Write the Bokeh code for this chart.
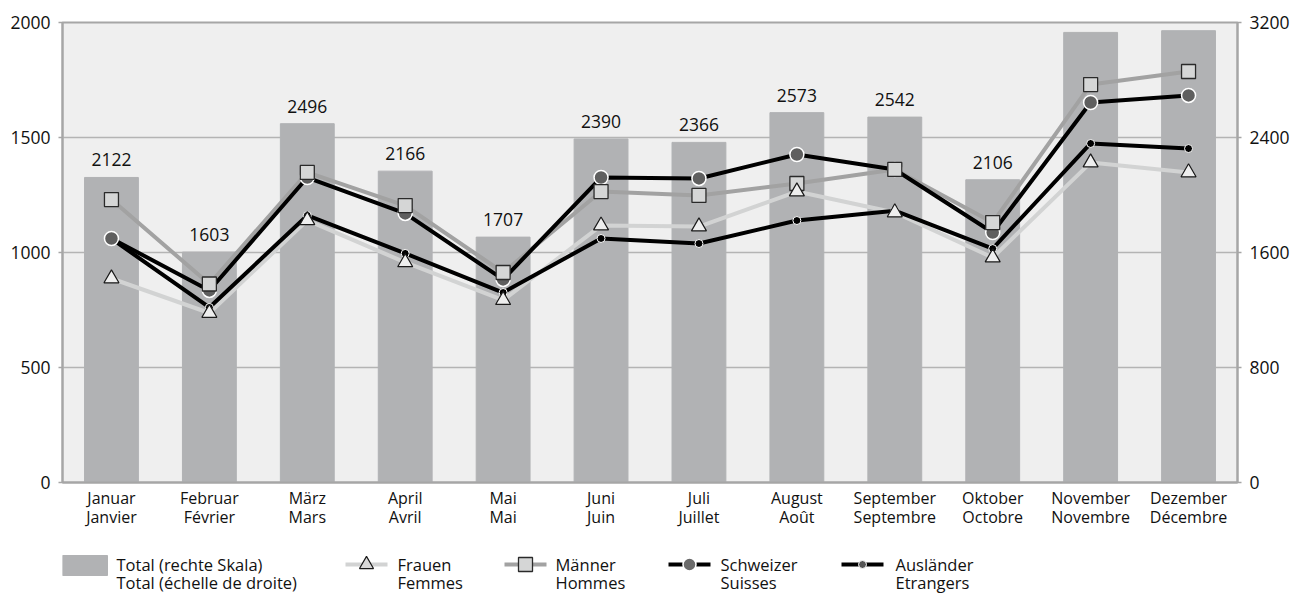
from bokeh.plotting import figure
from bokeh.models import (ColumnDataSource, Range1d, LinearAxis, FixedTicker,
                          LabelSet, FactorRange, CategoricalAxis,
                          CustomJSTickFormatter)
from bokeh.layouts import column
from bokeh.embed import file_html
from bokeh.resources import INLINE
from bokeh.core.properties import value

months_de = ["Januar", "Februar", "März", "April", "Mai", "Juni", "Juli",
             "August", "September", "Oktober", "November", "Dezember"]
months_fr = ["Janvier", "Février", "Mars", "Avril", "Mai", "Juin", "Juillet",
             "Août", "Septembre", "Octobre", "Novembre", "Décembre"]
total = [2122, 1603, 2496, 2166, 1707, 2390, 2366, 2573, 2542, 2106, 3131, 3143]
frauen = [887, 737, 1140, 957, 793, 1117, 1113, 1265, 1174, 978, 1391, 1348]
maenner = [1230, 863, 1348, 1204, 913, 1265, 1248, 1300, 1361, 1130, 1730, 1787]
schweizer = [1061, 835, 1326, 1170, 883, 1326, 1322, 1426, 1361, 1087, 1652, 1683]
auslaender = [1060, 761, 1161, 996, 826, 1061, 1039, 1139, 1182, 1017, 1474, 1452]
left_ticks = [0, 500, 1000, 1500, 2000]
right_ticks = [0, 800, 1600, 2400, 3200]
legend_l1 = ["Total (rechte Skala)", "Frauen", "Männer", "Schweizer", "Ausländer"]
legend_l2 = ["Total (échelle de droite)", "Femmes", "Hommes", "Suisses", "Etrangers"]

FONT = "Open Sans"
TXT = "#111111"
W = 1295
FL, FR, FT, FB = 62, 1237, 22, 482   # frame edges in page pixels
MAIN_H = 535
LH = 59

src = ColumnDataSource(dict(m=months_de, total=total, lab=[str(t) for t in total],
                            frauen=frauen, maenner=maenner,
                            schweizer=schweizer, auslaender=auslaender))

p = figure(width=W, height=MAIN_H, x_range=FactorRange(*months_de),
           y_range=Range1d(0, 2000), output_backend="svg", toolbar_location=None,
           min_border_left=FL, min_border_right=W - FR, min_border_top=FT,
           min_border_bottom=MAIN_H - FB)
p.extra_y_ranges = {"right": Range1d(0, 3200)}
p.background_fill_color = "#efefef"
p.border_fill_color = "white"
p.outline_line_color = "#a6a6a6"
p.outline_line_width = 2

# bars (right scale)
p.vbar(x="m", top="total", width=0.55, source=src, color="#b1b2b4",
       y_range_name="right")
labels = LabelSet(x="m", y="total", text="lab", source=src, y_range_name="right",
                  text_align="center", text_baseline="bottom", y_offset=11,
                  text_font=value(FONT), text_font_size="17.5px", text_color=TXT)
p.add_layout(labels)

# lines
p.line("m", "frauen", source=src, line_color="#d2d3d3", line_width=4)
p.line("m", "maenner", source=src, line_color="#a2a2a2", line_width=4)
p.line("m", "schweizer", source=src, line_color="black", line_width=4)
p.line("m", "auslaender", source=src, line_color="black", line_width=4)

# markers
p.scatter("m", "auslaender", source=src, marker="circle", size=8,
          fill_color="black", line_color="white", line_width=1)
p.scatter("m", "schweizer", source=src, marker="circle", size=14,
          fill_color="#5f5f5f", line_color="white", line_width=1.5)
p.scatter("m", "maenner", source=src, marker="square", size=14,
          fill_color="#d5d6d6", line_color="#2a2a2a", line_width=1.3)
p.scatter("m", "frauen", source=src, marker="triangle", size=15,
          fill_color="#eeeeee", line_color="#1a1a1a", line_width=1.2)

# y axes
p.yaxis[0].ticker = FixedTicker(ticks=left_ticks)
ra = LinearAxis(y_range_name="right", ticker=FixedTicker(ticks=right_ticks))
p.add_layout(ra, "right")
for ax in [p.yaxis[0], ra]:
    ax.axis_line_color = "#a6a6a6"
    ax.axis_line_width = 2
    ax.major_tick_line_color = "#a6a6a6"
    ax.major_tick_line_width = 1.5
    ax.major_tick_out = 4
    ax.major_tick_in = 0
    ax.minor_tick_line_color = None
    ax.major_label_text_font = FONT
    ax.major_label_text_font_size = "17.5px"
    ax.major_label_text_color = TXT
    ax.major_label_standoff = 8

# x axes: German line, then French line
xa = p.xaxis[0]
xa.axis_line_color = "#a6a6a6"
xa.axis_line_width = 2
xa.major_label_standoff = 4
xa2 = CategoricalAxis()
xa2.axis_line_color = None
xa2.major_label_standoff = -6
xa2.formatter = CustomJSTickFormatter(
    args=dict(de=months_de, fr=months_fr),
    code="const i = de.indexOf(tick); return i >= 0 ? fr[i] : tick;")
p.add_layout(xa2, "below")
for ax in [xa, xa2]:
    ax.major_tick_line_color = None
    ax.minor_tick_line_color = None
    ax.major_tick_out = 0
    ax.major_tick_in = 0
    ax.major_label_text_font = FONT
    ax.major_label_text_font_size = "16px"
    ax.major_label_text_color = TXT

p.xgrid.grid_line_color = None
p.ygrid.ticker = FixedTicker(ticks=[500, 1000, 1500])
p.ygrid.grid_line_color = "#b4b4b4"
p.ygrid.grid_line_width = 1.5

# legend figure: frame aligned with the main frame, 1 unit = 1 page pixel
lg = figure(width=W, height=LH, x_range=Range1d(FL, FR), y_range=Range1d(LH, 0),
            output_backend="svg", toolbar_location=None,
            min_border_left=FL, min_border_right=W - FR,
            min_border_top=0, min_border_bottom=0,
            x_axis_location=None, y_axis_location=None)
lg.grid.visible = False
lg.outline_line_color = None
lg.background_fill_color = "white"

y1, y2 = 29, 47
lg.rect(x=[62 + 22.5], y=[y1 + 1], width=45, height=20, color="#b1b2b4")
leg_text_x = [116, 397, 555, 720, 895]
lg.text(x=leg_text_x, y=[y1] * 5, text=legend_l1, text_font=value(FONT),
        text_font_size="16.5px", text_baseline="middle", text_color=TXT)
lg.text(x=leg_text_x, y=[y2] * 5, text=legend_l2, text_font=value(FONT),
        text_font_size="16.5px", text_baseline="middle", text_color=TXT)

mk = [366, 525, 689, 862]
cols = ["#d2d3d3", "#a2a2a2", "black", "black"]
for cx, c in zip(mk, cols):
    lg.line([cx - 21, cx + 21], [y1, y1], line_color=c, line_width=4)
lg.scatter([mk[0]], [y1], marker="triangle", size=14, fill_color="#d8d8d8",
           line_color="#1a1a1a", line_width=1.2)
lg.scatter([mk[1]], [y1], marker="square", size=14, fill_color="#d5d6d6",
           line_color="#2a2a2a", line_width=1.3)
lg.scatter([mk[2]], [y1], marker="circle", size=13, fill_color="#6a6a6a",
           line_color="white", line_width=1.5)
lg.scatter([mk[3]], [y1], marker="circle", size=8, fill_color="#555555",
           line_color="white", line_width=1)

layout = column(p, lg, spacing=0)
open("out.html", "w").write(file_html(layout, INLINE))
